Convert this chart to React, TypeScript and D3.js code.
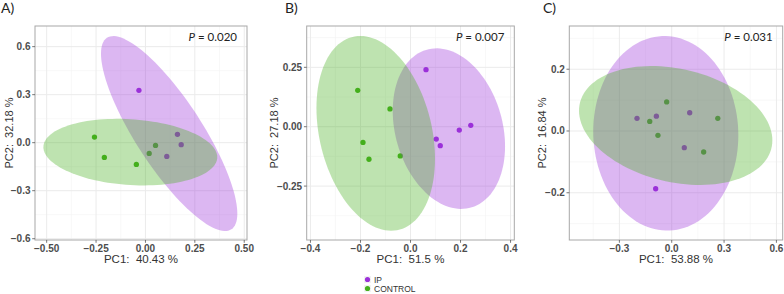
import React from "react";
import * as d3 from "d3";

// ---------- data ----------
const panelLabels = ["A)", "B)", "C)"];
const pValues = ["0.020", "0.007", "0.031"];
const xTitles = ["PC1:  40.43 %", "PC1:  51.5 %", "PC1:  53.88 %"];
const yTitles = ["PC2:  32.18 %", "PC2:  27.18 %", "PC2:  16.84 %"];

const xDomains = [[-0.559, 0.514], [-0.415, 0.415], [-0.587, 0.636]];
const yDomains = [[-0.608, 0.729], [-0.477, 0.424], [-0.353, 0.340]];
const xTicks = [[-0.5, -0.25, 0, 0.25, 0.5], [-0.4, -0.2, 0, 0.2, 0.4], [-0.3, 0, 0.3, 0.6]];
const yTicks = [[-0.6, -0.3, 0, 0.3, 0.6], [-0.25, 0, 0.25], [-0.2, 0, 0.2]];
const xTickFormats = [".2f", ".1f", ".1f"];
const yTickFormats = [".1f", ".2f", ".1f"];

// points [x, y]
const ipPoints = [
  [[-0.033, 0.327], [0.162, 0.052], [0.181, -0.0125], [0.108, -0.086]],
  [[0.062, 0.24], [0.195, -0.014], [0.241, 0.006], [0.103, -0.052], [0.119, -0.08]],
  [[-0.199, 0.041], [-0.088, 0.048], [0.103, 0.059], [0.072, -0.054], [-0.092, -0.187]],
];
const controlPoints = [
  [[-0.258, 0.035], [-0.208, -0.092], [-0.046, -0.136], [0.019, -0.067], [0.051, -0.017]],
  [[-0.211, 0.153], [-0.082, 0.075], [-0.19, -0.066], [-0.166, -0.137], [-0.041, -0.123]],
  [[-0.029, 0.094], [-0.126, 0.031], [0.264, 0.041], [-0.079, -0.014], [0.183, -0.068]],
];
// ellipses: [cx, cy, sx, sy, rho]
const ipEllipses = [
  [0.12, 0.057, 0.345, 0.609, -0.82],
  [0.1535, -0.008, 0.2245, 0.338, -0.22],
  [-0.034, -0.0076, 0.4157, 0.315, -0.02],
];
const controlEllipses = [
  [-0.0765, -0.059, 0.44, 0.208, -0.15],
  [-0.139, -0.028, 0.237, 0.41, -0.26],
  [0.0227, 0.0178, 0.554, 0.1926, -0.25],
];
const groups = ["IP", "CONTROL"];

// ---------- style ----------
const IP_COLOR = "#9b30d9";
const CTRL_COLOR = "#44b01c";
const panels = [
  { left: 35, right: 247, yTitleOffset: 22.5, labelX: 1 },
  { left: 306.7, right: 514.3, yTitleOffset: 28.5, labelX: 285 },
  { left: 569.3, right: 782.7, yTitleOffset: 23.3, labelX: 543 },
];
const TOP = 26;
const BOTTOM = 240;
const AX_FONT = "'Liberation Sans', Arial, sans-serif";
const LABEL_FONT = "Lato, 'Open Sans', sans-serif";

function ellipsePoints(e: number[]) {
  const [cx, cy, sx, sy, rho] = e;
  const n = 120;
  const pts: [number, number][] = [];
  const k = Math.sqrt(1 - rho * rho);
  for (let i = 0; i < n; i++) {
    const t = (i / n) * Math.PI * 2;
    pts.push([cx + sx * Math.cos(t), cy + sy * (rho * Math.cos(t) + k * Math.sin(t))]);
  }
  return pts;
}

function Panel({ i }: { i: number }) {
  const { left, right, yTitleOffset, labelX } = panels[i];
  const x = d3.scaleLinear().domain(xDomains[i]).range([left, right]);
  const y = d3.scaleLinear().domain(yDomains[i]).range([BOTTOM, TOP]);
  const line = d3
    .line<[number, number]>()
    .x((d) => x(d[0]))
    .y((d) => y(d[1]))
    .curve(d3.curveLinearClosed);

  const xt = xTicks[i];
  const yt = yTicks[i];
  const xStep = xt[1] - xt[0];
  const yStep = yt[1] - yt[0];
  const xMinor: number[] = [];
  for (let v = xt[0] - xStep / 2; v <= xDomains[i][1]; v += xStep / 2) {
    if (v >= xDomains[i][0] && !xt.some((t) => Math.abs(t - v) < 1e-9)) xMinor.push(v);
  }
  const yMinor: number[] = [];
  for (let v = yt[0] - yStep / 2; v <= yDomains[i][1]; v += yStep / 2) {
    if (v >= yDomains[i][0] && !yt.some((t) => Math.abs(t - v) < 1e-9)) yMinor.push(v);
  }
  const fx = d3.format(xTickFormats[i]);
  const fy = d3.format(yTickFormats[i]);
  const cxm = (left + right) / 2;
  const cym = (TOP + BOTTOM) / 2;

  return (
    <g>
      <rect x={left} y={TOP} width={right - left} height={BOTTOM - TOP} fill="#fff" />
      {xMinor.map((v) => (
        <line key={"xm" + v} x1={x(v)} x2={x(v)} y1={TOP} y2={BOTTOM} stroke="#f3f3f3" strokeWidth={0.6} />
      ))}
      {yMinor.map((v) => (
        <line key={"ym" + v} x1={left} x2={right} y1={y(v)} y2={y(v)} stroke="#f3f3f3" strokeWidth={0.6} />
      ))}
      {xt.map((v) => (
        <line key={"xg" + v} x1={x(v)} x2={x(v)} y1={TOP} y2={BOTTOM} stroke="#ebebeb" strokeWidth={1} />
      ))}
      {yt.map((v) => (
        <line key={"yg" + v} x1={left} x2={right} y1={y(v)} y2={y(v)} stroke="#ebebeb" strokeWidth={1} />
      ))}
      {/* points */}
      {ipPoints[i].map((p, j) => (
        <circle key={"ip" + j} cx={x(p[0])} cy={y(p[1])} r={2.65} fill={IP_COLOR} />
      ))}
      {controlPoints[i].map((p, j) => (
        <circle key={"c" + j} cx={x(p[0])} cy={y(p[1])} r={2.65} fill={CTRL_COLOR} />
      ))}
      {/* ellipses */}
      <path d={line(ellipsePoints(ipEllipses[i])) || ""} fill={IP_COLOR} fillOpacity={0.35} />
      <path d={line(ellipsePoints(controlEllipses[i])) || ""} fill={CTRL_COLOR} fillOpacity={0.35} />
      {/* border */}
      <rect x={left} y={TOP} width={right - left} height={BOTTOM - TOP} fill="none" stroke="#a8a8a8" strokeWidth={1} />
      {/* ticks */}
      {xt.map((v) => (
        <g key={"xt" + v}>
          <line x1={x(v)} x2={x(v)} y1={BOTTOM} y2={BOTTOM + 2.8} stroke="#555" strokeWidth={0.8} />
          <text x={x(v)} y={BOTTOM + 12} textAnchor="middle" fontFamily={AX_FONT} fontWeight="bold" fontSize={10} fill="#4d4d4d">
            {fx(v)}
          </text>
        </g>
      ))}
      {yt.map((v) => (
        <g key={"yt" + v}>
          <line x1={left - 2.8} x2={left} y1={y(v)} y2={y(v)} stroke="#555" strokeWidth={0.8} />
          <text x={left - 4.5} y={y(v) + 3.5} textAnchor="end" fontFamily={AX_FONT} fontWeight="bold" fontSize={10} fill="#4d4d4d">
            {fy(v)}
          </text>
        </g>
      ))}
      {/* axis titles */}
      <text x={cxm} y={263} textAnchor="middle" fontFamily={AX_FONT} fontSize={11.5} fill="#333" style={{ whiteSpace: "pre" }}>
        {xTitles[i]}
      </text>
      <text
        transform={`translate(${left - yTitleOffset},${cym}) rotate(-90)`}
        textAnchor="middle"
        fontFamily={AX_FONT}
        fontSize={11}
        fill="#333"
        style={{ whiteSpace: "pre" }}
      >
        {yTitles[i]}
      </text>
      {/* p value */}
      <text x={right - 10} y={40.5} textAnchor="end" fontFamily={LABEL_FONT} fontSize={11.5} fill="#222">
        <tspan fontStyle="italic">P</tspan>
        {" = " + pValues[i]}
      </text>
      {/* panel label */}
      <text x={labelX} y={13} fontFamily={LABEL_FONT} fontSize={14} fill="#222">
        {panelLabels[i]}
      </text>
    </g>
  );
}

export default function App() {
  return (
    <svg width={784} height={294} style={{ position: "absolute", left: 0, top: 0 }}>
      <rect width={784} height={294} fill="#fff" />
      {[0, 1, 2].map((i) => (
        <Panel key={i} i={i} />
      ))}
      {/* legend */}
      {groups.map((g, j) => (
        <g key={g}>
          <rect x={364} y={276 + j * 9} width={7} height={7} fill="#f2f2f2" />
          <circle cx={367.5} cy={279.5 + j * 9} r={2.6} fill={j === 0 ? IP_COLOR : CTRL_COLOR} />
          <text x={374} y={282.5 + j * 9} fontFamily={AX_FONT} fontSize={8.5} fill="#333">
            {g}
          </text>
        </g>
      ))}
    </svg>
  );
}
